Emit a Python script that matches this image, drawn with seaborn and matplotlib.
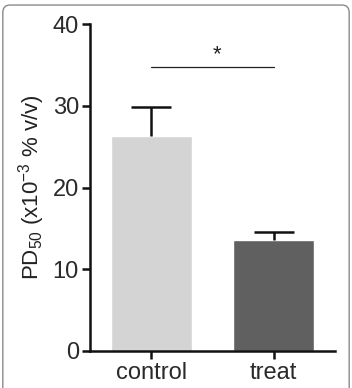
import pandas as pd
import numpy as np
import matplotlib
matplotlib.use('Agg')
import matplotlib.pyplot as plt
from matplotlib.patches import FancyBboxPatch
import seaborn as sns

# data
grupos = ['control', 'treat']
media = [26.3, 13.6]
erro = [3.6, 1.0]
cores = ['#d4d4d4', '#606060']
sig_y = 34.8

sns.set_style('ticks')
plt.rcParams['font.family'] = ['Liberation Sans', 'DejaVu Sans']
plt.rcParams['mathtext.fontset'] = 'custom'
plt.rcParams['mathtext.rm'] = 'Liberation Sans'
plt.rcParams['mathtext.default'] = 'regular'

df = pd.DataFrame({'grupo': grupos, 'PD50': media})

fig = plt.figure(figsize=(3.52, 3.88), dpi=100)
ax = fig.add_axes([0.2557, 0.0954, 0.696, 0.8426])

sns.barplot(data=df, x='grupo', y='PD50', hue='grupo', palette=cores,
            width=0.66, legend=False, ax=ax, errorbar=None, saturation=1)

# only upper error bars (drop the lower caps)
eb = ax.errorbar(np.arange(len(grupos)), media, yerr=[np.zeros(len(erro)), erro],
                 fmt='none', ecolor='#111111', elinewidth=1.8, capsize=14.5, capthick=1.8)
eb[1][0].remove()

# significance bar
ax.plot([0, 1], [sig_y, sig_y], color='#222222', lw=0.9)
ax.text(0.54, sig_y + 0.2, '*', ha='center', va='bottom', fontsize=16, color='#222222')

ax.set_xlim(-0.5, 1.5)
ax.set_ylim(0, 40)
ax.set_yticks([0, 10, 20, 30, 40])
ax.set_xlabel('')
ax.set_ylabel('PD$_{50}$ (x10$^{-3}$ % v/v)', fontsize=16, color='#222222', labelpad=4)
ax.tick_params(axis='both', direction='out', length=6, width=1.8, labelsize=17,
               colors='#111111', labelcolor='#2a2a2a', pad=2)
for s in ['left', 'bottom']:
    ax.spines[s].set_linewidth(1.8)
    ax.spines[s].set_color('#111111')
sns.despine(ax=ax)

# rounded frame around the panel
frame = FancyBboxPatch((0.008, -0.05), 0.984, 1.037, boxstyle='round,pad=0,rounding_size=0.02',
                       transform=fig.transFigure, fill=False, edgecolor='#8a8a8a', lw=1.0)
fig.patches.append(frame)

fig.savefig('out.png', dpi=100)
